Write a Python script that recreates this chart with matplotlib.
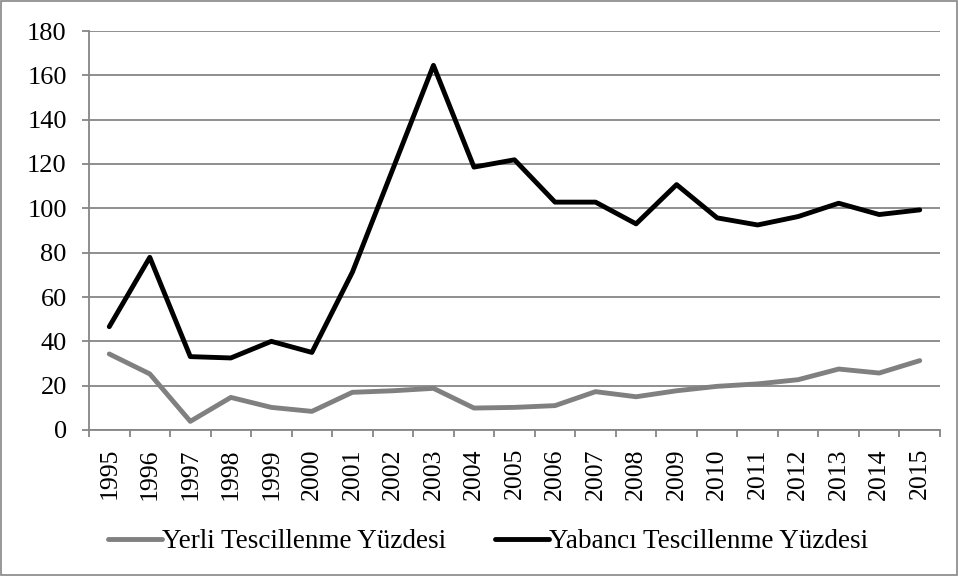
import numpy as np
import matplotlib.pyplot as plt
from matplotlib.patches import Rectangle

years = [str(y) for y in range(1995, 2016)]
yerli = [34.3, 25.3, 3.9, 14.7, 10.2, 8.4, 17.0, 17.7, 18.8, 9.9, 10.2,
         11.0, 17.3, 15.0, 17.7, 19.7, 20.8, 22.7, 27.5, 25.7, 31.3]
yabanci = [46.6, 77.9, 33.1, 32.5, 40.0, 35.0, 71.2, 117.8, 164.5, 118.6, 121.9,
           102.8, 102.8, 93.0, 110.7, 95.7, 92.5, 96.3, 102.3, 97.2, 99.3]

plt.rcParams['font.family'] = ['Liberation Serif', 'DejaVu Serif']

fig = plt.figure(figsize=(9.59, 5.76), dpi=100)
ax = fig.add_axes([89 / 959, 1 - 430 / 576, 851 / 959, 399 / 576])

gray = '#868686'
x = np.arange(len(years))
ax.plot(x, yerli, color='#808080', lw=3.5, solid_capstyle='round',
        label='Yerli Tescillenme Yüzdesi')
ax.plot(x, yabanci, color='black', lw=3.5, solid_capstyle='round',
        label='Yabancı Tescillenme Yüzdesi')

ax.set_xlim(-0.5, len(years) - 0.5)
ax.set_ylim(0, 180)
ax.set_yticks(range(0, 181, 20))
ax.yaxis.grid(True, color=gray, lw=1.3)
ax.set_axisbelow(True)

ax.set_xticks(x)
ax.set_xticklabels(years, rotation=90, fontsize=18.5)
ax.set_xticks(np.arange(-0.5, len(years), 1), minor=True)
ax.tick_params(axis='x', which='major', length=0, pad=13)
ax.tick_params(axis='x', which='minor', length=5, color=gray, width=1.3)
ax.tick_params(axis='y', length=5, color=gray, width=1.3, labelsize=19, pad=11)

for s in ['top', 'right']:
    ax.spines[s].set_visible(False)
for s in ['left', 'bottom']:
    ax.spines[s].set_color(gray)
    ax.spines[s].set_linewidth(1.3)

ax.legend(loc='center', bbox_to_anchor=(488 / 959, 1 - 542 / 576),
          bbox_transform=fig.transFigure, ncol=2, frameon=False,
          fontsize=19.5, handlelength=2.0, handletextpad=0.0, columnspacing=1.8)

fig.patches.append(Rectangle((0.001, 0.002), 0.997, 0.996, transform=fig.transFigure,
                             fill=False, edgecolor=gray, lw=1.2))

fig.savefig('out.png', dpi=100)
